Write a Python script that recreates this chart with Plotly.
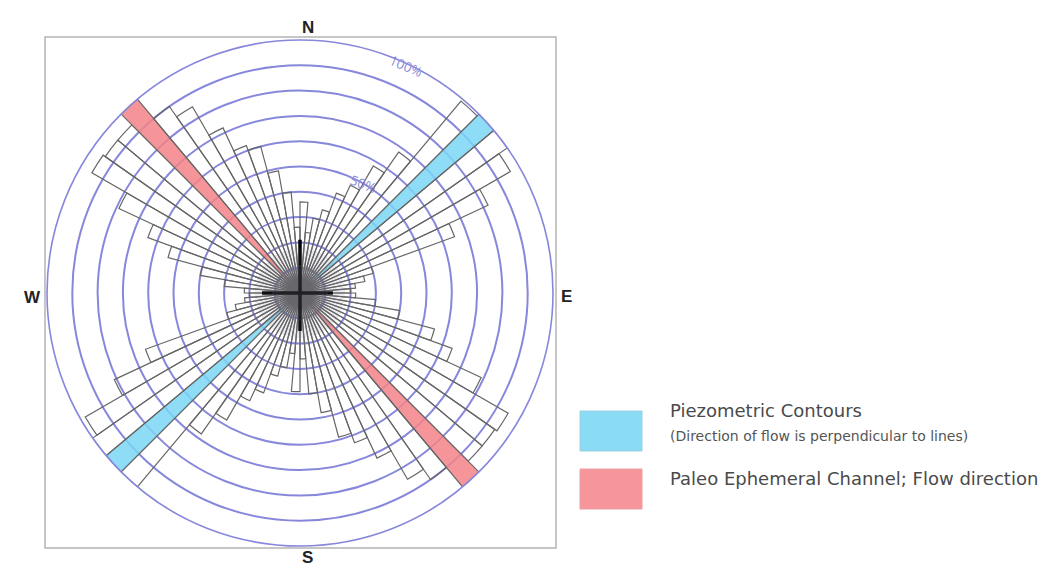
import plotly.graph_objects as go

# ---------------- data ----------------
# 5-degree direction bins (bin centres, degrees clockwise from North)
bin_centres = [
    2.5, 7.5, 12.5, 17.5, 22.5, 27.5, 32.5, 37.5, 42.5, 47.5, 52.5, 57.5,
    62.5, 67.5, 72.5, 77.5, 82.5, 87.5, 92.5, 97.5, 102.5, 107.5, 112.5, 117.5,
    122.5, 127.5, 132.5, 137.5, 142.5, 147.5, 152.5, 157.5, 162.5, 167.5, 172.5, 177.5,
    182.5, 187.5, 192.5, 197.5, 202.5, 207.5, 212.5, 217.5, 222.5, 227.5, 232.5, 237.5,
    242.5, 247.5, 252.5, 257.5, 262.5, 267.5, 272.5, 277.5, 282.5, 287.5, 292.5, 297.5,
    302.5, 307.5, 312.5, 317.5, 322.5, 327.5, 332.5, 337.5, 342.5, 347.5, 352.5, 357.5,
]
# relative frequency (% of the maximum bin)
frequency_pct = [
    36, 24, 30, 34, 42, 47, 58, 68, 99, 100, 100, 96,
    82, 65, 30, 26, 22, 20, 22, 30, 40, 55, 64, 79,
    95, 94, 94, 100, 90, 85, 72, 63, 59, 48, 40, 26,
    39, 24, 30, 34, 42, 47, 58, 68, 100, 100, 100, 98,
    81, 65, 30, 26, 22, 20, 22, 30, 40, 54, 64, 79,
    95, 94, 94, 100, 90, 85, 72, 62, 60, 49, 40, 26,
]
piezometric_bins = [47.5, 227.5]   # blue
channel_bins = [137.5, 317.5]      # red

ring_values = [10, 20, 30, 40, 50, 60, 70, 80, 90, 100]
ring_labels = {50: "50%", 100: "100%"}

# black cross in the centre (arm length in %)
cross_theta = [0, 90, 180, 270]
cross_len = [21, 13, 15, 15]

legend_items = [
    ("Piezometric Contours", "(Direction of flow is perpendicular to lines)"),
    ("Paleo Ephemeral Channel; Flow direction", None),
]

# ---------------- styling ----------------
W, H = 1049, 581
OFF = 8                            # page body margin of the html page
CX, CY, R = 300, 293, 253          # pixel centre / radius of the rose (page pixels)
RING = "#8787dc"
OUTLINE = "#666666"
BLUE = "rgba(122,214,245,0.85)"
RED = "rgba(245,130,135,0.85)"


def px(x):
    return (x - OFF) / W


def py(y):
    return 1 - (y - OFF) / H


colors = []
for t in bin_centres:
    if t in piezometric_bins:
        colors.append(BLUE)
    elif t in channel_bins:
        colors.append(RED)
    else:
        colors.append("rgba(255,255,255,0)")

fig = go.Figure()
fig.add_trace(go.Barpolar(
    theta=bin_centres, r=frequency_pct, width=[5] * len(bin_centres),
    marker=dict(color=colors, line=dict(color=OUTLINE, width=1.2)),
    hoverinfo="skip", showlegend=False,
))
for t, L in zip(cross_theta, cross_len):
    fig.add_trace(go.Scatterpolar(
        theta=[t, t], r=[0, L], mode="lines",
        line=dict(color="black", width=3.5), hoverinfo="skip", showlegend=False,
    ))

fig.update_layout(
    width=W, height=H, margin=dict(l=0, r=0, t=0, b=0),
    paper_bgcolor="white", showlegend=False,
    polar=dict(
        domain=dict(x=[px(CX - R), px(CX + R)], y=[py(CY + R), py(CY - R)]),
        bgcolor="white",
        radialaxis=dict(range=[0, 100], tickvals=ring_values, showticklabels=False,
                        ticks="", showline=False, gridcolor=RING, gridwidth=1.5),
        angularaxis=dict(rotation=90, direction="clockwise", showgrid=False,
                         showticklabels=False, ticks="", showline=True,
                         linecolor=RING, linewidth=1.6),
    ),
)

shapes = []
# square frame
shapes.append(dict(type="rect", xref="paper", yref="paper",
                   x0=px(45), x1=px(556), y0=py(548), y1=py(37),
                   line=dict(color="#b4b4b4", width=1.5), fillcolor="rgba(0,0,0,0)"))
# grey haze at the centre
for rad, a in [(45, 0.13), (28, 0.2)]:
    shapes.append(dict(type="circle", xref="paper", yref="paper",
                       x0=px(CX - rad), x1=px(CX + rad), y0=py(CY + rad), y1=py(CY - rad),
                       line=dict(width=0), fillcolor=f"rgba(110,110,125,{a})"))
# legend swatches
shapes.append(dict(type="rect", xref="paper", yref="paper",
                   x0=px(580), x1=px(642), y0=py(451), y1=py(411),
                   line=dict(color="#9ccfe0", width=1), fillcolor="#8adcf6"))
shapes.append(dict(type="rect", xref="paper", yref="paper",
                   x0=px(580), x1=px(642), y0=py(509), y1=py(469),
                   line=dict(color="#e8a0a4", width=1), fillcolor="#f6959a"))
fig.update_layout(shapes=shapes)

ann = []
compass_font = dict(family="Liberation Sans, Arial", size=17, color="#222")
for txt, x, y in [("N", 300, 16), ("S", 300, 569), ("W", 22, 297), ("E", 566, 296)]:
    ann.append(dict(text=f"<b>{txt}</b>", x=px(x), y=py(y), xref="paper", yref="paper",
                    showarrow=False, font=compass_font))
# ring labels
for txt, x, y, ang in [(ring_labels[50], 345, 168, 20), (ring_labels[100], 406, 48, 23)]:
    ann.append(dict(text=txt, x=px(x), y=py(y), xref="paper", yref="paper",
                    showarrow=False, textangle=ang,
                    font=dict(family="Open Sans", size=13.5, color="#8a8ad6")))
# legend text
lf = "DejaVu Sans"
ann.append(dict(text=legend_items[0][0], x=px(668), y=py(423), xref="paper", yref="paper",
                xanchor="left", showarrow=False, font=dict(family=lf, size=18, color="#4a4a4a")))
ann.append(dict(text=legend_items[0][1], x=px(668), y=py(446), xref="paper", yref="paper",
                xanchor="left", showarrow=False, font=dict(family=lf, size=14, color="#555")))
ann.append(dict(text=legend_items[1][0], x=px(668), y=py(491), xref="paper", yref="paper",
                xanchor="left", showarrow=False, font=dict(family=lf, size=18, color="#4a4a4a")))
fig.update_layout(annotations=ann)

fig.write_html("out.html")
